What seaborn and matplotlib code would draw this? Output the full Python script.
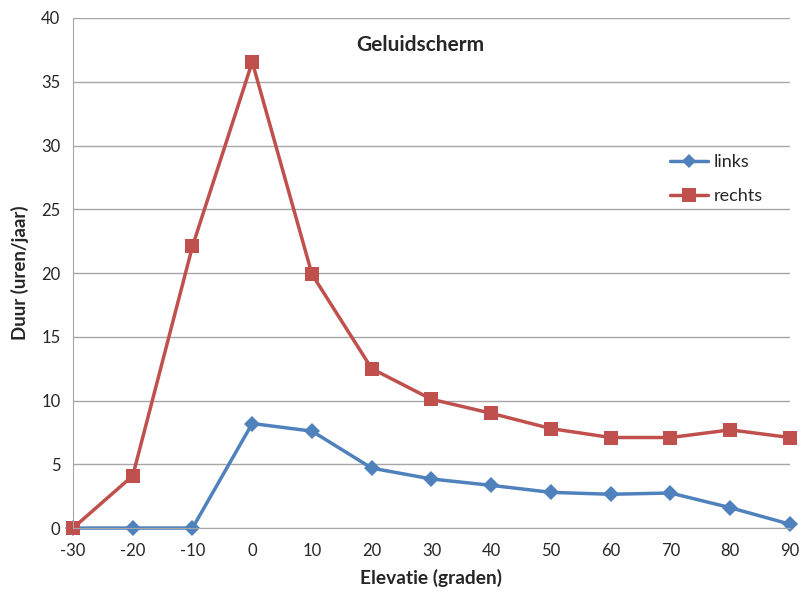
import matplotlib
matplotlib.use("Agg")
import matplotlib.pyplot as plt
import seaborn as sns
import pandas as pd
from matplotlib.lines import Line2D

# Elevation angles (degrees) and annual duration (hours/year) per side
elevatie = [-30, -20, -10, 0, 10, 20, 30, 40, 50, 60, 70, 80, 90]
links = [0, 0, 0, 8.2, 7.6, 4.7, 3.85, 3.35, 2.8, 2.65, 2.75, 1.6, 0.3]
rechts = [0, 4.1, 22.1, 36.55, 19.9, 12.5, 10.1, 9.0, 7.8, 7.1, 7.1, 7.7, 7.1]
y_ticks = [0, 5, 10, 15, 20, 25, 30, 35, 40]

sns.set_style("white")
plt.rcParams["font.family"] = ["Lato", "DejaVu Sans"]

df = pd.DataFrame({
    "Elevatie": elevatie * 2,
    "Duur": links + rechts,
    "Kant": ["links"] * len(elevatie) + ["rechts"] * len(elevatie),
})

fig = plt.figure(figsize=(8.03, 5.92), dpi=100)
ax = fig.add_axes([0.0909, 0.108, 0.8929, 0.8616])

palette = {"links": "#4F81BD", "rechts": "#C0504D"}
sns.lineplot(data=df, x="Elevatie", y="Duur", hue="Kant", style="Kant",
             palette=palette, markers={"links": "D", "rechts": "s"},
             dashes=False, linewidth=2.5, markeredgewidth=0,
             ax=ax, legend=False)
for line, ms in zip(ax.lines, [8.5, 10.5]):
    line.set_markersize(ms)
    line.set_clip_on(False)

ax.set_xlim(-30, 90)
ax.set_ylim(0, 40)
ax.set_xticks(elevatie)
ax.set_xticklabels([str(v) for v in elevatie])
ax.set_yticks(y_ticks)
ax.grid(axis="y", color="#A6A6A6", linewidth=1)
ax.set_axisbelow(True)
for s in ["top", "right"]:
    ax.spines[s].set_visible(False)
ax.spines["left"].set_color("#A6A6A6")
ax.spines["bottom"].set_color("#A6A6A6")
ax.tick_params(axis="x", direction="out", length=5, color="#A6A6A6",
               labelsize=12, pad=6)
ax.tick_params(axis="y", direction="out", length=5, color="#A6A6A6",
               labelsize=12, pad=4)

ax.set_xlabel("Elevatie (graden)", fontsize=13.8, fontweight="bold", labelpad=7)
ax.set_ylabel("Duur (uren/jaar)", fontsize=13.5, fontweight="bold", labelpad=9)
ax.text(0.484, 0.967, "Geluidscherm", transform=ax.transAxes,
        fontsize=15, fontweight="bold", ha="center", va="top")

handles = [
    Line2D([], [], color=palette["links"], marker="D", markersize=7,
           markeredgewidth=0, linewidth=2.5),
    Line2D([], [], color=palette["rechts"], marker="s", markersize=9.5,
           markeredgewidth=0, linewidth=2.5),
]
ax.legend(handles, ["links", "rechts"], loc="upper left",
          bbox_to_anchor=(0.81, 0.765), frameon=False, fontsize=13,
          handlelength=2.1, handletextpad=0.3, labelspacing=1.0)

fig.savefig("out.png", dpi=100)
